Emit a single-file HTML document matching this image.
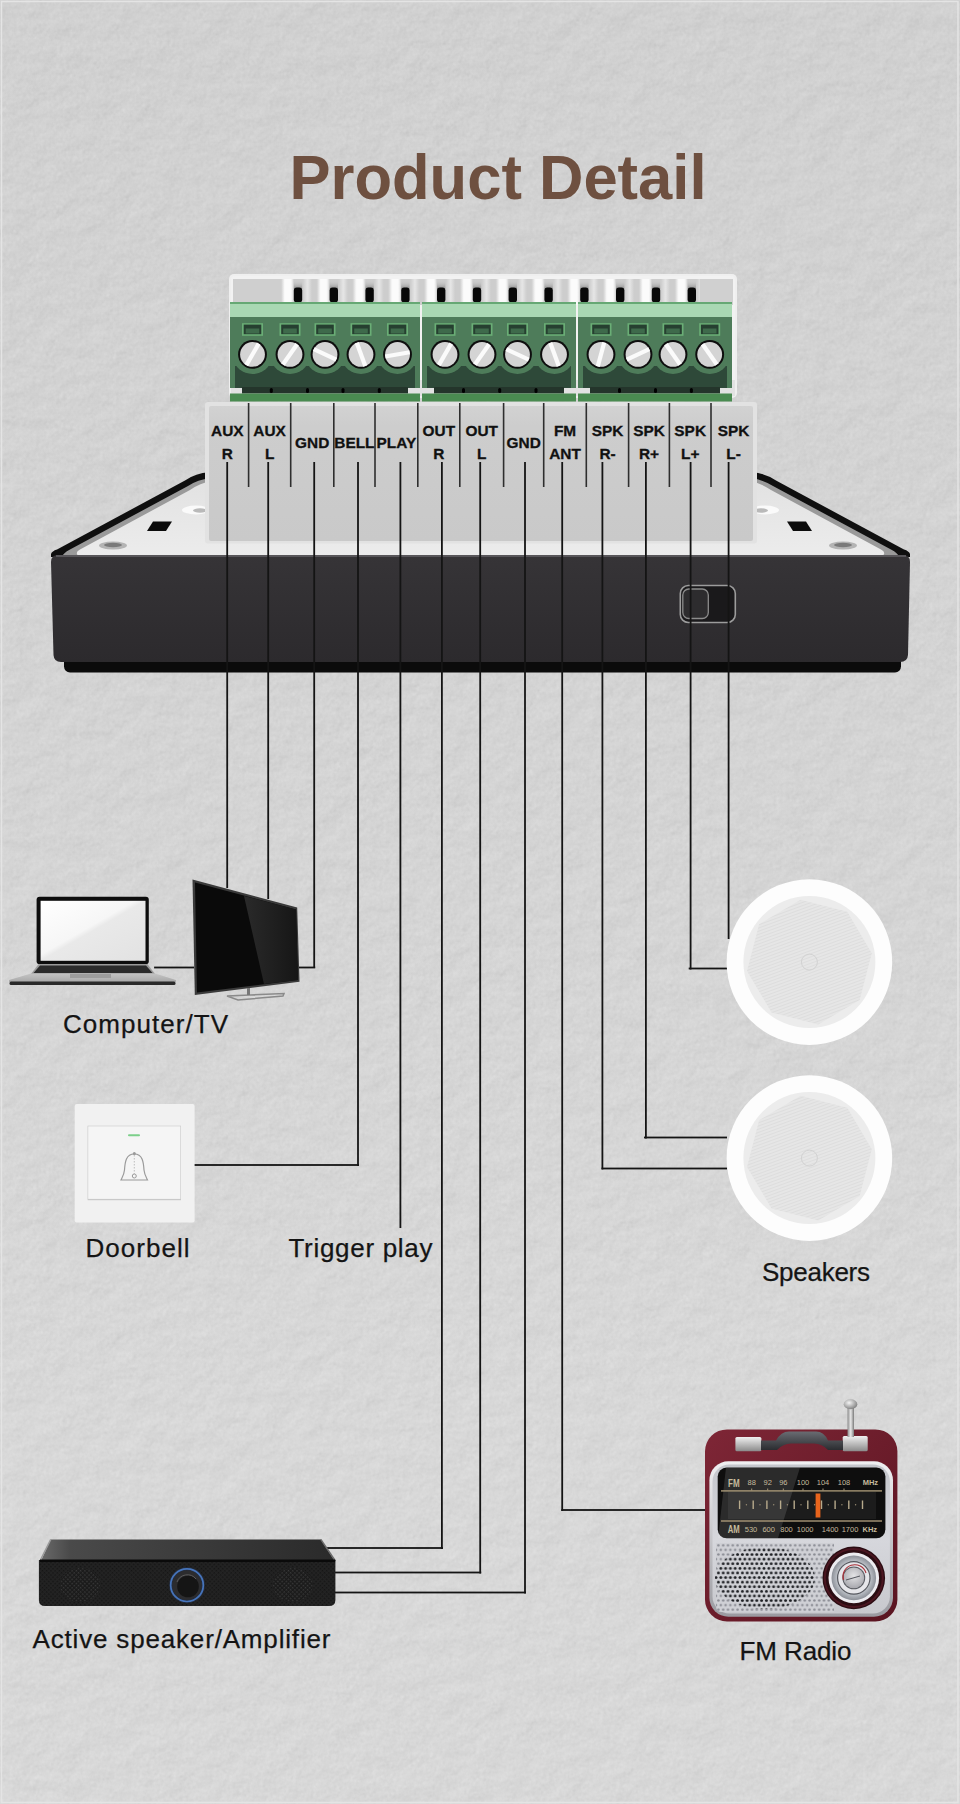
<!DOCTYPE html>
<html><head><meta charset="utf-8">
<style>
html,body{margin:0;padding:0;}
body{width:960px;height:1804px;overflow:hidden;background:#d0d0d0;position:relative;}
svg{position:absolute;left:0;top:0;}
.lb{font-family:"Liberation Sans",sans-serif;font-weight:bold;font-size:15.4px;fill:#111;stroke:#111;stroke-width:0.3px;text-anchor:middle;}
.t{font-family:"Liberation Sans",sans-serif;fill:#141414;stroke:#141414;stroke-width:0.25px;}
.rt{font-family:"Liberation Sans",sans-serif;font-size:7.5px;fill:#c6bb9e;}
</style></head><body>
<svg width="960" height="1804" viewBox="0 0 960 1804">
<defs>
<filter id="tex" x="0" y="0" width="960" height="1804" filterUnits="userSpaceOnUse" color-interpolation-filters="sRGB">
<feTurbulence type="fractalNoise" baseFrequency="0.04 0.045" numOctaves="4" seed="11" result="n"/>
<feDiffuseLighting in="n" surfaceScale="2.2" diffuseConstant="1" lighting-color="#ffffff" result="l">
<feDistantLight azimuth="235" elevation="55"/>
</feDiffuseLighting>
<feColorMatrix in="l" type="matrix" values="0.33 0.33 0.33 0 0  0.33 0.33 0.33 0 0  0.33 0.33 0.33 0 0  0 0 0 0 0.14"/>
</filter>
<filter id="tex2" x="0" y="0" width="960" height="1804" filterUnits="userSpaceOnUse" color-interpolation-filters="sRGB">
<feTurbulence type="fractalNoise" baseFrequency="0.3 0.25" numOctaves="2" seed="7" result="n"/>
<feColorMatrix in="n" type="matrix" values="0.33 0.33 0.33 0 0  0.33 0.33 0.33 0 0  0.33 0.33 0.33 0 0  0 0 0 0 0.08"/>
</filter>
<linearGradient id="band" x1="0" x2="1" y1="0" y2="0"><stop offset="0" stop-color="#cdcdcd"/><stop offset="0.3" stop-color="#fbfbfb"/><stop offset="0.8" stop-color="#fbfbfb"/><stop offset="1" stop-color="#d8d8d8"/></linearGradient>
<linearGradient id="band2" x1="0" x2="1" y1="0" y2="0"><stop offset="0" stop-color="#cdcdcd"/><stop offset="0.5" stop-color="#e6e6e6"/><stop offset="1" stop-color="#cdcdcd"/></linearGradient>
<linearGradient id="pinsh" x1="0" x2="0" y1="0" y2="1"><stop offset="0" stop-color="#cdcdcd" stop-opacity="0"/><stop offset="1" stop-color="#8a8a8a"/></linearGradient>
<pattern id="stripes" x="281" y="0" width="35.8" height="30" patternUnits="userSpaceOnUse">
<rect x="0" y="0" width="35.8" height="30" fill="#cdcdcd"/>
<rect x="0" y="0" width="12.5" height="30" fill="url(#band)"/>
<rect x="22" y="0" width="9" height="30" fill="url(#band2)"/>
</pattern>
<linearGradient id="topsurf" x1="0" y1="0" x2="0" y2="1"><stop offset="0" stop-color="#e2e2e2"/><stop offset="1" stop-color="#ececec"/></linearGradient>
<linearGradient id="bgg" x1="0" y1="0" x2="0" y2="1"><stop offset="0" stop-color="#d9d9d9"/><stop offset="0.5" stop-color="#dedede"/><stop offset="0.78" stop-color="#e2e2e2"/><stop offset="1" stop-color="#e2e2e2"/></linearGradient>
<linearGradient id="panel" x1="0" y1="0" x2="0" y2="1"><stop offset="0" stop-color="#d2d2d2"/><stop offset="0.15" stop-color="#cdcdcd"/><stop offset="1" stop-color="#c9c9c9"/></linearGradient>
<linearGradient id="body" x1="0" y1="0" x2="0" y2="1">
<stop offset="0" stop-color="#363437"/><stop offset="1" stop-color="#2c2a2d"/>
</linearGradient>
<linearGradient id="scr" x1="0" y1="0" x2="1" y2="1">
<stop offset="0" stop-color="#ffffff"/><stop offset="0.45" stop-color="#f6f6f6"/><stop offset="0.5" stop-color="#e9e9e9"/><stop offset="1" stop-color="#e2e2e2"/>
</linearGradient>
<linearGradient id="lapbase" x1="0" y1="0" x2="0" y2="1">
<stop offset="0" stop-color="#c4c4c4"/><stop offset="1" stop-color="#a8a8a8"/>
</linearGradient>
<linearGradient id="tvref" x1="0" y1="0" x2="1" y2="0">
<stop offset="0" stop-color="#2a2a2a"/><stop offset="1" stop-color="#161616"/>
</linearGradient>
<pattern id="grille" width="3" height="3" patternUnits="userSpaceOnUse" patternTransform="rotate(-20)">
<rect width="3" height="3" fill="#e6e6e6"/><rect width="3" height="1" fill="#dddddd"/>
</pattern>
<linearGradient id="sbtop" x1="0" y1="0" x2="1" y2="0">
<stop offset="0" stop-color="#6a6a6a"/><stop offset="0.1" stop-color="#4a4a4a"/><stop offset="0.6" stop-color="#383838"/><stop offset="1" stop-color="#2a2a2a"/>
</linearGradient>
<pattern id="mesh" width="3" height="3" patternUnits="userSpaceOnUse" patternTransform="rotate(45)">
<rect width="3" height="3" fill="#232323"/><rect width="1.5" height="1.5" fill="#151515"/>
</pattern>
<pattern id="mesh2" width="3" height="3" patternUnits="userSpaceOnUse" patternTransform="rotate(45)">
<rect width="3" height="3" fill="#1a1a1a"/><rect width="1.5" height="1.5" fill="#3a3a3a"/>
</pattern>
<linearGradient id="red" x1="0" y1="0" x2="1" y2="1">
<stop offset="0" stop-color="#7e2636"/><stop offset="1" stop-color="#5a1420"/>
</linearGradient>
<linearGradient id="silver" x1="0" y1="0" x2="0" y2="1">
<stop offset="0" stop-color="#f0f0f2"/><stop offset="1" stop-color="#9a9aa0"/>
</linearGradient>
<linearGradient id="silver2" x1="0" y1="0" x2="0" y2="1">
<stop offset="0" stop-color="#c4c6cc"/><stop offset="0.5" stop-color="#d6d7dc"/><stop offset="1" stop-color="#c8c9ce"/>
</linearGradient>
<pattern id="dots" width="4.8" height="9.2" patternUnits="userSpaceOnUse" x="716" y="1543">
<rect width="4.8" height="9.2" fill="#cfd0d5"/><circle cx="2.4" cy="2.3" r="1.25" fill="#8a8c94"/><circle cx="0" cy="6.9" r="1.25" fill="#8a8c94"/><circle cx="4.8" cy="6.9" r="1.25" fill="#8a8c94"/>
</pattern>
<pattern id="dots2" width="4.8" height="9.2" patternUnits="userSpaceOnUse" x="716" y="1543">
<rect width="4.8" height="9.2" fill="#cfd0d5"/><circle cx="2.4" cy="2.3" r="1.45" fill="#1e2024"/><circle cx="0" cy="6.9" r="1.45" fill="#1e2024"/><circle cx="4.8" cy="6.9" r="1.45" fill="#1e2024"/>
</pattern>
<radialGradient id="kring" cx="0.5" cy="0.5" r="0.5"><stop offset="0.7" stop-color="#c4c8ce"/><stop offset="1" stop-color="#8c9098"/></radialGradient>
<linearGradient id="hdark" x1="0" y1="0" x2="0" y2="1"><stop offset="0" stop-color="#6a6c72"/><stop offset="1" stop-color="#2a2c30"/></linearGradient>
<radialGradient id="antk" cx="0.4" cy="0.35" r="0.7"><stop offset="0" stop-color="#f4f4f4"/><stop offset="1" stop-color="#7a7a7a"/></radialGradient>
<radialGradient id="knob" cx="0.5" cy="0.25" r="0.8">
<stop offset="0" stop-color="#f6f6f6"/><stop offset="0.6" stop-color="#d0d0d4"/><stop offset="1" stop-color="#8a8a90"/>
</radialGradient>
<radialGradient id="knob2" cx="0.5" cy="0.4" r="0.6">
<stop offset="0" stop-color="#e4e4e6"/><stop offset="1" stop-color="#a8a8ae"/>
</radialGradient>
<linearGradient id="handle" x1="0" y1="0" x2="0" y2="1">
<stop offset="0" stop-color="#f0f0f0"/><stop offset="1" stop-color="#8a8a8a"/>
</linearGradient>
<linearGradient id="ant" x1="0" y1="0" x2="1" y2="0">
<stop offset="0" stop-color="#8a8a8a"/><stop offset="0.5" stop-color="#e8e8e8"/><stop offset="1" stop-color="#7a7a7a"/>
</linearGradient>
</defs>
<rect x="0" y="0" width="960" height="1804" fill="url(#bgg)"/>
<rect x="0" y="0" width="960" height="1804" filter="url(#tex)"/>
<rect x="0" y="0" width="960" height="1804" filter="url(#tex2)"/>
<rect x="1.5" y="1.5" width="956.5" height="1801" fill="none" stroke="#e4e4e4" stroke-width="1.5"/>
<text x="289.5" y="199.4" textLength="417" lengthAdjust="spacingAndGlyphs" style="font-family:'Liberation Sans',sans-serif;font-weight:bold;font-size:63px;fill:#6e5040;">Product Detail</text>
<rect x="229" y="274" width="508" height="124" rx="5" fill="#efefef"/>
<rect x="231" y="276" width="504" height="120" rx="4" fill="#f2f2f2"/><rect x="231" y="380" width="504" height="16" fill="#e2e2e2"/>
<rect x="233" y="279" width="500" height="26" fill="url(#stripes)"/>
<rect x="233" y="279" width="48" height="26" fill="#cfcfcf"/>
<rect x="700" y="279" width="33" height="26" fill="#d0d0d0"/>
<rect x="293.8" y="280" width="8.4" height="9" fill="url(#pinsh)"/>
<rect x="293.8" y="287.5" width="8.4" height="15" rx="3" fill="#080808"/>
<rect x="329.6" y="280" width="8.4" height="9" fill="url(#pinsh)"/>
<rect x="329.6" y="287.5" width="8.4" height="15" rx="3" fill="#080808"/>
<rect x="365.4" y="280" width="8.4" height="9" fill="url(#pinsh)"/>
<rect x="365.4" y="287.5" width="8.4" height="15" rx="3" fill="#080808"/>
<rect x="401.2" y="280" width="8.4" height="9" fill="url(#pinsh)"/>
<rect x="401.2" y="287.5" width="8.4" height="15" rx="3" fill="#080808"/>
<rect x="437.0" y="280" width="8.4" height="9" fill="url(#pinsh)"/>
<rect x="437.0" y="287.5" width="8.4" height="15" rx="3" fill="#080808"/>
<rect x="472.8" y="280" width="8.4" height="9" fill="url(#pinsh)"/>
<rect x="472.8" y="287.5" width="8.4" height="15" rx="3" fill="#080808"/>
<rect x="508.6" y="280" width="8.4" height="9" fill="url(#pinsh)"/>
<rect x="508.6" y="287.5" width="8.4" height="15" rx="3" fill="#080808"/>
<rect x="544.4" y="280" width="8.4" height="9" fill="url(#pinsh)"/>
<rect x="544.4" y="287.5" width="8.4" height="15" rx="3" fill="#080808"/>
<rect x="580.2" y="280" width="8.4" height="9" fill="url(#pinsh)"/>
<rect x="580.2" y="287.5" width="8.4" height="15" rx="3" fill="#080808"/>
<rect x="616.0" y="280" width="8.4" height="9" fill="url(#pinsh)"/>
<rect x="616.0" y="287.5" width="8.4" height="15" rx="3" fill="#080808"/>
<rect x="651.8" y="280" width="8.4" height="9" fill="url(#pinsh)"/>
<rect x="651.8" y="287.5" width="8.4" height="15" rx="3" fill="#080808"/>
<rect x="687.6" y="280" width="8.4" height="9" fill="url(#pinsh)"/>
<rect x="687.6" y="287.5" width="8.4" height="15" rx="3" fill="#080808"/>
<rect x="230" y="302" width="190" height="2" fill="#66a874"/>
<rect x="230" y="304" width="190" height="13" fill="#a9d8b3"/>
<rect x="230" y="317" width="190" height="71" fill="#4e7c5a"/>
<rect x="235" y="366" width="180" height="22" fill="#2e4939"/>
<rect x="242" y="387" width="166" height="6.5" fill="#24352b"/>
<rect x="230" y="393.5" width="190" height="8" fill="#4a8b51"/>
<rect x="422" y="302" width="154" height="2" fill="#66a874"/>
<rect x="422" y="304" width="154" height="13" fill="#a9d8b3"/>
<rect x="422" y="317" width="154" height="71" fill="#4e7c5a"/>
<rect x="427" y="366" width="144" height="22" fill="#2e4939"/>
<rect x="434" y="387" width="130" height="6.5" fill="#24352b"/>
<rect x="422" y="393.5" width="154" height="8" fill="#4a8b51"/>
<rect x="578" y="302" width="154" height="2" fill="#66a874"/>
<rect x="578" y="304" width="154" height="13" fill="#a9d8b3"/>
<rect x="578" y="317" width="154" height="71" fill="#4e7c5a"/>
<rect x="583" y="366" width="144" height="22" fill="#2e4939"/>
<rect x="590" y="387" width="130" height="6.5" fill="#24352b"/>
<rect x="578" y="393.5" width="154" height="8" fill="#4a8b51"/>
<ellipse cx="252.5" cy="359" rx="18.2" ry="15" fill="#4e7c5a"/>
<ellipse cx="290" cy="359" rx="18.2" ry="15" fill="#4e7c5a"/>
<ellipse cx="325" cy="359" rx="18.2" ry="15" fill="#4e7c5a"/>
<ellipse cx="361" cy="359" rx="18.2" ry="15" fill="#4e7c5a"/>
<ellipse cx="397.5" cy="359" rx="18.2" ry="15" fill="#4e7c5a"/>
<ellipse cx="445" cy="359" rx="18.2" ry="15" fill="#4e7c5a"/>
<ellipse cx="482" cy="359" rx="18.2" ry="15" fill="#4e7c5a"/>
<ellipse cx="517.5" cy="359" rx="18.2" ry="15" fill="#4e7c5a"/>
<ellipse cx="554.5" cy="359" rx="18.2" ry="15" fill="#4e7c5a"/>
<ellipse cx="601" cy="359" rx="18.2" ry="15" fill="#4e7c5a"/>
<ellipse cx="638" cy="359" rx="18.2" ry="15" fill="#4e7c5a"/>
<ellipse cx="673" cy="359" rx="18.2" ry="15" fill="#4e7c5a"/>
<ellipse cx="709.7" cy="359" rx="18.2" ry="15" fill="#4e7c5a"/>
<rect x="242.0" y="323.2" width="21" height="12.6" fill="#6aae76"/>
<rect x="243.7" y="324.6" width="17.6" height="9.6" fill="#263f30"/>
<rect x="245.7" y="328.5" width="13.6" height="5" fill="#3e6a4b"/>
<circle cx="252.5" cy="354.4" r="14.4" fill="#0e0e0e"/>
<circle cx="252.5" cy="354.4" r="12.4" fill="#d4d4d4"/>
<rect x="240.1" y="352.3" width="24.8" height="4.2" fill="#fbfbfb" transform="rotate(-60 252.5 354.4)"/>
<rect x="279.5" y="323.2" width="21" height="12.6" fill="#6aae76"/>
<rect x="281.2" y="324.6" width="17.6" height="9.6" fill="#263f30"/>
<rect x="283.2" y="328.5" width="13.6" height="5" fill="#3e6a4b"/>
<circle cx="290" cy="354.4" r="14.4" fill="#0e0e0e"/>
<circle cx="290" cy="354.4" r="12.4" fill="#d4d4d4"/>
<rect x="277.6" y="352.3" width="24.8" height="4.2" fill="#fbfbfb" transform="rotate(-55 290 354.4)"/>
<rect x="314.5" y="323.2" width="21" height="12.6" fill="#6aae76"/>
<rect x="316.2" y="324.6" width="17.6" height="9.6" fill="#263f30"/>
<rect x="318.2" y="328.5" width="13.6" height="5" fill="#3e6a4b"/>
<circle cx="325" cy="354.4" r="14.4" fill="#0e0e0e"/>
<circle cx="325" cy="354.4" r="12.4" fill="#d4d4d4"/>
<rect x="312.6" y="352.3" width="24.8" height="4.2" fill="#fbfbfb" transform="rotate(25 325 354.4)"/>
<rect x="350.5" y="323.2" width="21" height="12.6" fill="#6aae76"/>
<rect x="352.2" y="324.6" width="17.6" height="9.6" fill="#263f30"/>
<rect x="354.2" y="328.5" width="13.6" height="5" fill="#3e6a4b"/>
<circle cx="361" cy="354.4" r="14.4" fill="#0e0e0e"/>
<circle cx="361" cy="354.4" r="12.4" fill="#d4d4d4"/>
<rect x="348.6" y="352.3" width="24.8" height="4.2" fill="#fbfbfb" transform="rotate(70 361 354.4)"/>
<rect x="387.0" y="323.2" width="21" height="12.6" fill="#6aae76"/>
<rect x="388.7" y="324.6" width="17.6" height="9.6" fill="#263f30"/>
<rect x="390.7" y="328.5" width="13.6" height="5" fill="#3e6a4b"/>
<circle cx="397.5" cy="354.4" r="14.4" fill="#0e0e0e"/>
<circle cx="397.5" cy="354.4" r="12.4" fill="#d4d4d4"/>
<rect x="385.1" y="352.3" width="24.8" height="4.2" fill="#fbfbfb" transform="rotate(-10 397.5 354.4)"/>
<rect x="434.5" y="323.2" width="21" height="12.6" fill="#6aae76"/>
<rect x="436.2" y="324.6" width="17.6" height="9.6" fill="#263f30"/>
<rect x="438.2" y="328.5" width="13.6" height="5" fill="#3e6a4b"/>
<circle cx="445" cy="354.4" r="14.4" fill="#0e0e0e"/>
<circle cx="445" cy="354.4" r="12.4" fill="#d4d4d4"/>
<rect x="432.6" y="352.3" width="24.8" height="4.2" fill="#fbfbfb" transform="rotate(-60 445 354.4)"/>
<rect x="471.5" y="323.2" width="21" height="12.6" fill="#6aae76"/>
<rect x="473.2" y="324.6" width="17.6" height="9.6" fill="#263f30"/>
<rect x="475.2" y="328.5" width="13.6" height="5" fill="#3e6a4b"/>
<circle cx="482" cy="354.4" r="14.4" fill="#0e0e0e"/>
<circle cx="482" cy="354.4" r="12.4" fill="#d4d4d4"/>
<rect x="469.6" y="352.3" width="24.8" height="4.2" fill="#fbfbfb" transform="rotate(-55 482 354.4)"/>
<rect x="507.0" y="323.2" width="21" height="12.6" fill="#6aae76"/>
<rect x="508.7" y="324.6" width="17.6" height="9.6" fill="#263f30"/>
<rect x="510.7" y="328.5" width="13.6" height="5" fill="#3e6a4b"/>
<circle cx="517.5" cy="354.4" r="14.4" fill="#0e0e0e"/>
<circle cx="517.5" cy="354.4" r="12.4" fill="#d4d4d4"/>
<rect x="505.1" y="352.3" width="24.8" height="4.2" fill="#fbfbfb" transform="rotate(25 517.5 354.4)"/>
<rect x="544.0" y="323.2" width="21" height="12.6" fill="#6aae76"/>
<rect x="545.7" y="324.6" width="17.6" height="9.6" fill="#263f30"/>
<rect x="547.7" y="328.5" width="13.6" height="5" fill="#3e6a4b"/>
<circle cx="554.5" cy="354.4" r="14.4" fill="#0e0e0e"/>
<circle cx="554.5" cy="354.4" r="12.4" fill="#d4d4d4"/>
<rect x="542.1" y="352.3" width="24.8" height="4.2" fill="#fbfbfb" transform="rotate(70 554.5 354.4)"/>
<rect x="590.5" y="323.2" width="21" height="12.6" fill="#6aae76"/>
<rect x="592.2" y="324.6" width="17.6" height="9.6" fill="#263f30"/>
<rect x="594.2" y="328.5" width="13.6" height="5" fill="#3e6a4b"/>
<circle cx="601" cy="354.4" r="14.4" fill="#0e0e0e"/>
<circle cx="601" cy="354.4" r="12.4" fill="#d4d4d4"/>
<rect x="588.6" y="352.3" width="24.8" height="4.2" fill="#fbfbfb" transform="rotate(-75 601 354.4)"/>
<rect x="627.5" y="323.2" width="21" height="12.6" fill="#6aae76"/>
<rect x="629.2" y="324.6" width="17.6" height="9.6" fill="#263f30"/>
<rect x="631.2" y="328.5" width="13.6" height="5" fill="#3e6a4b"/>
<circle cx="638" cy="354.4" r="14.4" fill="#0e0e0e"/>
<circle cx="638" cy="354.4" r="12.4" fill="#d4d4d4"/>
<rect x="625.6" y="352.3" width="24.8" height="4.2" fill="#fbfbfb" transform="rotate(-25 638 354.4)"/>
<rect x="662.5" y="323.2" width="21" height="12.6" fill="#6aae76"/>
<rect x="664.2" y="324.6" width="17.6" height="9.6" fill="#263f30"/>
<rect x="666.2" y="328.5" width="13.6" height="5" fill="#3e6a4b"/>
<circle cx="673" cy="354.4" r="14.4" fill="#0e0e0e"/>
<circle cx="673" cy="354.4" r="12.4" fill="#d4d4d4"/>
<rect x="660.6" y="352.3" width="24.8" height="4.2" fill="#fbfbfb" transform="rotate(55 673 354.4)"/>
<rect x="699.2" y="323.2" width="21" height="12.6" fill="#6aae76"/>
<rect x="700.9" y="324.6" width="17.6" height="9.6" fill="#263f30"/>
<rect x="702.9" y="328.5" width="13.6" height="5" fill="#3e6a4b"/>
<circle cx="709.7" cy="354.4" r="14.4" fill="#0e0e0e"/>
<circle cx="709.7" cy="354.4" r="12.4" fill="#d4d4d4"/>
<rect x="697.3" y="352.3" width="24.8" height="4.2" fill="#fbfbfb" transform="rotate(55 709.7 354.4)"/>
<rect x="269.8" y="388" width="3" height="5" rx="1.5" fill="#000"/>
<rect x="306.0" y="388" width="3" height="5" rx="1.5" fill="#000"/>
<rect x="341.5" y="388" width="3" height="5" rx="1.5" fill="#000"/>
<rect x="377.8" y="388" width="3" height="5" rx="1.5" fill="#000"/>
<rect x="462.0" y="388" width="3" height="5" rx="1.5" fill="#000"/>
<rect x="498.2" y="388" width="3" height="5" rx="1.5" fill="#000"/>
<rect x="534.5" y="388" width="3" height="5" rx="1.5" fill="#000"/>
<rect x="618.0" y="388" width="3" height="5" rx="1.5" fill="#000"/>
<rect x="654.0" y="388" width="3" height="5" rx="1.5" fill="#000"/>
<rect x="689.9" y="388" width="3" height="5" rx="1.5" fill="#000"/>
<path d="M51 557 L51 554 Q52 551 57 549.5 L185 480.5 Q196 473 209 472.3 L752 472.3 Q765 473 776 480.5 L904 549.5 Q909 551 910 554 L910 557 Z" fill="#0f0f0f"/>
<path d="M62 557 Q63 553 70 549.5 L188 486 Q198 479.5 210 478.3 L751 478.3 Q763 479.5 773 486 L891 549.5 Q898 553 899 557 Z" fill="#9a9a9a"/>
<path d="M79 556 Q74 553 80 549.5 L190 490 Q200 483 212 481 L749 481 Q761 483 771 490 L881 549.5 Q887 553 882 556 Z" fill="url(#topsurf)"/>
<ellipse cx="113" cy="545.5" rx="14" ry="4" fill="#b4b4b4"/><ellipse cx="113" cy="545" rx="9" ry="2.2" fill="#7a7a7a"/>
<ellipse cx="843" cy="545.5" rx="14" ry="4" fill="#b4b4b4"/><ellipse cx="843" cy="545" rx="9" ry="2.2" fill="#7a7a7a"/>
<path d="M153 521.5 L172 521.5 L166 531 L147 531 Z" fill="#0c0c0c"/>
<path d="M787 521.5 L806 521.5 L812 531 L793 531 Z" fill="#0c0c0c"/>
<ellipse cx="196" cy="510" rx="14" ry="4.4" fill="#fafafa"/><ellipse cx="200" cy="510.5" rx="7" ry="2.2" fill="#b9b9b9"/>
<ellipse cx="765" cy="510" rx="14" ry="4.4" fill="#fafafa"/><ellipse cx="761" cy="510.5" rx="7" ry="2.2" fill="#b9b9b9"/>
<rect x="64" y="645" width="837" height="27.5" rx="6" fill="#0b0b0b"/>
<path d="M51 562 Q51 555 58 555 L903 555 Q910 555 910 562 L908 655 Q907.5 662 900 662 L61 662 Q54 662 53.5 655 Z" fill="url(#body)"/>
<rect x="56" y="555" width="850" height="2" fill="#58565a"/>
<rect x="680.3" y="585.5" width="55" height="37" rx="8" fill="#1a191b" stroke="#9c9c9c" stroke-width="1.6"/>
<rect x="682.8" y="589" width="25.5" height="29.5" rx="6" fill="#2d2c2e" stroke="#8c8c8c" stroke-width="1.3"/>
<rect x="205" y="402" width="552" height="141.5" rx="3" fill="#e2e2e2"/>
<rect x="209" y="406" width="544" height="135" rx="2" fill="url(#panel)"/>
<rect x="247.8" y="403" width="1.6" height="84" fill="#2e2e2e"/>
<rect x="289.9" y="403" width="1.6" height="84" fill="#2e2e2e"/>
<rect x="333.0" y="403" width="1.6" height="84" fill="#2e2e2e"/>
<rect x="374.2" y="403" width="1.6" height="84" fill="#2e2e2e"/>
<rect x="417.0" y="403" width="1.6" height="84" fill="#2e2e2e"/>
<rect x="459.0" y="403" width="1.6" height="84" fill="#2e2e2e"/>
<rect x="502.8" y="403" width="1.6" height="84" fill="#2e2e2e"/>
<rect x="542.9" y="403" width="1.6" height="84" fill="#2e2e2e"/>
<rect x="585.5" y="403" width="1.6" height="84" fill="#2e2e2e"/>
<rect x="627.8" y="403" width="1.6" height="84" fill="#2e2e2e"/>
<rect x="668.6" y="403" width="1.6" height="84" fill="#2e2e2e"/>
<rect x="710.2" y="403" width="1.6" height="84" fill="#2e2e2e"/>
<text x="227.3" y="436.4" class="lb">AUX</text>
<text x="227.3" y="459.2" class="lb">R</text>
<text x="269.6" y="436.4" class="lb">AUX</text>
<text x="269.6" y="459.2" class="lb">L</text>
<text x="312.2" y="447.8" class="lb">GND</text>
<text x="354.4" y="447.8" class="lb">BELL</text>
<text x="396.4" y="447.8" class="lb">PLAY</text>
<text x="438.8" y="436.4" class="lb">OUT</text>
<text x="438.8" y="459.2" class="lb">R</text>
<text x="481.7" y="436.4" class="lb">OUT</text>
<text x="481.7" y="459.2" class="lb">L</text>
<text x="523.7" y="447.8" class="lb">GND</text>
<text x="565.0" y="436.4" class="lb">FM</text>
<text x="565.0" y="459.2" class="lb">ANT</text>
<text x="607.5" y="436.4" class="lb">SPK</text>
<text x="607.5" y="459.2" class="lb">R-</text>
<text x="649.0" y="436.4" class="lb">SPK</text>
<text x="649.0" y="459.2" class="lb">R+</text>
<text x="690.2" y="436.4" class="lb">SPK</text>
<text x="690.2" y="459.2" class="lb">L+</text>
<text x="733.5" y="436.4" class="lb">SPK</text>
<text x="733.5" y="459.2" class="lb">L-</text>
<rect x="226.3" y="462" width="1.8" height="426.0" fill="#141414"/>
<rect x="267.3" y="462" width="1.8" height="437.0" fill="#141414"/>
<rect x="313.3" y="462" width="1.8" height="506.0" fill="#141414"/>
<rect x="357.1" y="462" width="1.8" height="704.0" fill="#141414"/>
<rect x="399.5" y="462" width="1.8" height="766.0" fill="#141414"/>
<rect x="441.0" y="462" width="1.8" height="1087.0" fill="#141414"/>
<rect x="479.3" y="462" width="1.8" height="1111.5" fill="#141414"/>
<rect x="524.1" y="462" width="1.8" height="1131.5" fill="#141414"/>
<rect x="561.3" y="462" width="1.8" height="1049.0" fill="#141414"/>
<rect x="601.5" y="462" width="1.8" height="707.4" fill="#141414"/>
<rect x="645.0" y="462" width="1.8" height="676.5" fill="#141414"/>
<rect x="689.7" y="462" width="1.8" height="507.5" fill="#141414"/>
<rect x="727.7" y="462" width="1.8" height="477.0" fill="#141414"/>
<rect x="298.1" y="966.6" width="17.1" height="1.8" fill="#141414"/>
<rect x="154.1" y="966.6" width="39.9" height="1.8" fill="#141414"/>
<rect x="193.1" y="1164.1" width="165.9" height="1.8" fill="#141414"/>
<rect x="327.1" y="1547.1" width="115.9" height="1.8" fill="#141414"/>
<rect x="334.1" y="1571.6" width="147.1" height="1.8" fill="#141414"/>
<rect x="334.1" y="1591.6" width="191.9" height="1.8" fill="#141414"/>
<rect x="561.3" y="1509.1" width="144.7" height="1.8" fill="#141414"/>
<rect x="601.5" y="1167.6" width="125.5" height="1.8" fill="#141414"/>
<rect x="644.0" y="1136.6" width="83.0" height="1.8" fill="#141414"/>
<rect x="688.7" y="967.6" width="38.3" height="1.8" fill="#141414"/>
<rect x="36.6" y="896.8" width="112.2" height="67.5" rx="3" fill="#0d0d0d"/>
<rect x="40.6" y="900.8" width="104.9" height="60" fill="url(#scr)"/>
<path d="M38.6 964 L147.4 964 L155 974 L31 974 Z" fill="#9a9a9a"/>
<path d="M40 965.5 L146 965.5 L152.5 973 L33.5 973 Z" fill="#2b2b2b"/>
<path d="M31 973.5 L155 973.5 L176 980 L176 982 L9 982 L9 980 Z" fill="url(#lapbase)"/>
<rect x="70" y="974" width="41" height="4" fill="#9c9c9c"/>
<rect x="9.5" y="981.5" width="166" height="3.5" rx="1.5" fill="#2a2a2a"/>
<path d="M192.5 879.4 L297.2 907.5 L299.5 981.7 L194.8 995 Z" fill="#3a3a3a"/>
<path d="M195 882.5 L296 909.5 L298 980 L197 992.5 Z" fill="#0a0a0a"/>
<path d="M244 896 L296 909.5 L298 980 L264 984 Z" fill="url(#tvref)"/>
<path d="M227 996 L284 993.5 L283 996 L238 1000 Z" fill="none" stroke="#8a8a8a" stroke-width="1.5"/>
<rect x="247" y="988" width="3" height="7" fill="#777"/>
<rect x="74.7" y="1104" width="119.9" height="118.5" rx="2" fill="#f1f1f1"/>
<rect x="87.6" y="1125.7" width="93.4" height="74.5" fill="#c9c9c9"/>
<rect x="88.2" y="1126.3" width="92.2" height="72.6" fill="#f5f5f5"/>
<rect x="128" y="1134.3" width="12" height="2" rx="1" fill="#7ccf8a"/>
<path d="M134.3 1154 C126 1154 125 1162 124.5 1170 C124 1175 122 1178 121 1180 L147.5 1180 C146.5 1178 144.5 1175 144 1170 C143.5 1162 142.5 1154 134.3 1154 Z" fill="none" stroke="#9a9a9a" stroke-width="1.2"/>
<circle cx="134.3" cy="1153.5" r="1.5" fill="#9a9a9a"/><circle cx="134.3" cy="1176" r="2" fill="none" stroke="#9a9a9a" stroke-width="1"/>
<line x1="134.3" y1="1155" x2="134.3" y2="1174" stroke="#b0b0b0" stroke-width="0.8" stroke-dasharray="1.5 1.5"/>
<circle cx="809.4" cy="962.1" r="82.8" fill="#fdfdfd"/>
<circle cx="809.4" cy="962.1" r="66" fill="#ececec"/>
<polygon points="859.7,1000.0 818.2,1024.5 771.5,1012.4 747.0,970.9 759.1,924.2 800.6,899.7 847.3,911.8 871.8,953.3" fill="url(#grille)"/>
<circle cx="809.4" cy="962.1" r="8" fill="none" stroke="#d2d2d2" stroke-width="1"/>
<circle cx="809.4" cy="1158.1" r="82.8" fill="#fdfdfd"/>
<circle cx="809.4" cy="1158.1" r="66" fill="#ececec"/>
<polygon points="859.7,1196.0 818.2,1220.5 771.5,1208.4 747.0,1166.9 759.1,1120.2 800.6,1095.7 847.3,1107.8 871.8,1149.3" fill="url(#grille)"/>
<circle cx="809.4" cy="1158.1" r="8" fill="none" stroke="#d2d2d2" stroke-width="1"/>
<path d="M50.8 1539.4 L320.8 1539.4 L335.4 1562 L40.4 1562 Z" fill="url(#sbtop)"/>
<path d="M50.8 1539.4 L40.4 1560" stroke="#9a9a9a" stroke-width="1.5"/>
<path d="M320.8 1539.4 L335.4 1561" stroke="#6a6a6a" stroke-width="1.5"/>
<path d="M38.9 1560 L335.4 1560 L335.4 1600 Q335.4 1606 329 1606 L45 1606 Q38.9 1606 38.9 1600 Z" fill="url(#mesh)"/>
<rect x="40" y="1559.5" width="295" height="2.5" fill="#0a0a0a"/>
<ellipse cx="80" cy="1585" rx="20" ry="17" fill="url(#mesh2)"/>
<ellipse cx="292.8" cy="1585" rx="20" ry="17" fill="url(#mesh2)"/>
<circle cx="187" cy="1585.2" r="18" fill="#2a3a5a" opacity="0.5"/>
<circle cx="187" cy="1585.2" r="16.3" fill="none" stroke="#4674bb" stroke-width="1.7"/>
<circle cx="187" cy="1585.2" r="14.6" fill="#2c2c2e"/>
<circle cx="188" cy="1586.5" r="10.8" fill="#151515"/>
<path d="M177 1582 A11 11 0 0 1 196 1579" fill="none" stroke="#5a5a5a" stroke-width="1"/>
<rect x="705" y="1429.4" width="192.4" height="192" rx="22" fill="url(#red)"/>
<rect x="709.4" y="1461.3" width="183.6" height="155.5" rx="19" fill="url(#silver)"/>
<rect x="712.5" y="1464.5" width="177.4" height="149" rx="17" fill="url(#silver2)"/>
<rect x="717.7" y="1467.5" width="167.7" height="70.8" rx="9" fill="#0e0e0e"/>
<rect x="728" y="1492" width="148" height="27" fill="#1c1c1c"/>
<path d="M726 1467.5 L800 1467.5 L778 1538.3 L718 1538.3 Z" fill="#ffffff" opacity="0.12"/>
<rect x="721" y="1490.2" width="161" height="1.4" fill="#a89878"/>
<rect x="721" y="1520.3" width="161" height="1.4" fill="#a89878"/>
<rect x="738.9" y="1500.5" width="1.4" height="8.5" fill="#b7aa8c"/>
<circle cx="746.4" cy="1504.8" r="0.7" fill="#9a8e74"/>
<rect x="752.5" y="1500.5" width="1.4" height="8.5" fill="#b7aa8c"/>
<circle cx="760.0" cy="1504.8" r="0.7" fill="#9a8e74"/>
<rect x="766.2" y="1500.5" width="1.4" height="8.5" fill="#b7aa8c"/>
<circle cx="773.7" cy="1504.8" r="0.7" fill="#9a8e74"/>
<rect x="779.9" y="1500.5" width="1.4" height="8.5" fill="#b7aa8c"/>
<circle cx="787.4" cy="1504.8" r="0.7" fill="#9a8e74"/>
<rect x="793.5" y="1500.5" width="1.4" height="8.5" fill="#b7aa8c"/>
<circle cx="801.0" cy="1504.8" r="0.7" fill="#9a8e74"/>
<rect x="807.1" y="1500.5" width="1.4" height="8.5" fill="#b7aa8c"/>
<circle cx="814.6" cy="1504.8" r="0.7" fill="#9a8e74"/>
<rect x="820.8" y="1500.5" width="1.4" height="8.5" fill="#b7aa8c"/>
<circle cx="828.3" cy="1504.8" r="0.7" fill="#9a8e74"/>
<rect x="834.4" y="1500.5" width="1.4" height="8.5" fill="#b7aa8c"/>
<circle cx="841.9" cy="1504.8" r="0.7" fill="#9a8e74"/>
<rect x="848.1" y="1500.5" width="1.4" height="8.5" fill="#b7aa8c"/>
<circle cx="855.6" cy="1504.8" r="0.7" fill="#9a8e74"/>
<rect x="861.8" y="1500.5" width="1.4" height="8.5" fill="#b7aa8c"/>
<rect x="751.2" y="1488.5" width="1" height="2" fill="#a89878"/>
<rect x="767.2" y="1488.5" width="1" height="2" fill="#a89878"/>
<rect x="782.8" y="1488.5" width="1" height="2" fill="#a89878"/>
<rect x="802.5" y="1488.5" width="1" height="2" fill="#a89878"/>
<rect x="822.5" y="1488.5" width="1" height="2" fill="#a89878"/>
<rect x="843.5" y="1488.5" width="1" height="2" fill="#a89878"/>
<rect x="815.6" y="1493.5" width="4.8" height="24" fill="#e8641c"/>
<text x="733.8" y="1487.3" class="rt" style="font-size:10.5px;font-weight:bold;text-anchor:middle" textLength="11.6" lengthAdjust="spacingAndGlyphs">FM</text>
<text x="733.8" y="1533" class="rt" style="font-size:10.5px;font-weight:bold;text-anchor:middle" textLength="12" lengthAdjust="spacingAndGlyphs">AM</text>
<text x="751.7" y="1485.2" class="rt" style="text-anchor:middle">88</text>
<text x="767.7" y="1485.2" class="rt" style="text-anchor:middle">92</text>
<text x="783.3" y="1485.2" class="rt" style="text-anchor:middle">96</text>
<text x="803" y="1485.2" class="rt" style="text-anchor:middle">100</text>
<text x="823" y="1485.2" class="rt" style="text-anchor:middle">104</text>
<text x="844" y="1485.2" class="rt" style="text-anchor:middle">108</text>
<text x="870.4" y="1485.2" class="rt" style="font-weight:bold;text-anchor:middle">MHz</text>
<text x="751" y="1532" class="rt" style="text-anchor:middle">530</text>
<text x="768.7" y="1532" class="rt" style="text-anchor:middle">600</text>
<text x="786.5" y="1532" class="rt" style="text-anchor:middle">800</text>
<text x="805.2" y="1532" class="rt" style="text-anchor:middle">1000</text>
<text x="830.2" y="1532" class="rt" style="text-anchor:middle">1400</text>
<text x="850" y="1532" class="rt" style="text-anchor:middle">1700</text>
<text x="869.8" y="1532" class="rt" style="font-weight:bold;text-anchor:middle">KHz</text>
<path d="M716 1543 L834 1543 L834 1612 L722 1612 Q716 1612 716 1606 Z" fill="url(#dots)"/>
<ellipse cx="765" cy="1578" rx="50" ry="31" fill="url(#dots2)"/>
<circle cx="853.8" cy="1577.9" r="31.3" fill="#2a0c12"/>
<circle cx="853.8" cy="1577.9" r="29" fill="none" stroke="#4a1520" stroke-width="2"/>
<circle cx="853.8" cy="1577.9" r="25.3" fill="#ececf0"/>
<circle cx="853.8" cy="1577.9" r="22.3" fill="url(#kring)"/>
<circle cx="853.8" cy="1577.9" r="16.8" fill="#55575e"/>
<circle cx="853.8" cy="1577.9" r="15.6" fill="#e6e6ea"/>
<circle cx="853.8" cy="1577.9" r="11.4" fill="#5a5c62"/>
<circle cx="853.8" cy="1577.9" r="10.4" fill="url(#knob2)"/>
<path d="M843.5 1580 A11 11 0 0 1 866 1573" fill="none" stroke="#a83038" stroke-width="1.1"/>
<path d="M846 1580 L860 1576" fill="none" stroke="#55575e" stroke-width="1"/>
<rect x="735.4" y="1437" width="26" height="14.3" rx="1.5" fill="url(#handle)"/>
<rect x="842.7" y="1436" width="25" height="15.3" rx="1.5" fill="url(#handle)"/>
<path d="M761 1440.5 L776 1440.5 Q781 1431.5 789 1431.5 L816 1431.5 Q824 1431.5 828 1440.5 L843 1440.5 L843 1450 L828 1450 Q822 1443.5 814 1443.5 L791 1443.5 Q783 1443.5 777 1450 L761 1450 Z" fill="url(#hdark)"/>
<rect x="847.5" y="1407" width="6.5" height="30" fill="url(#ant)"/>
<ellipse cx="850.5" cy="1404.3" rx="6.8" ry="5" fill="url(#antk)"/>
<text x="63" y="1032.7" class="t" style="font-size:26px" textLength="165" lengthAdjust="spacing">Computer/TV</text>
<text x="85.5" y="1257" class="t" style="font-size:26px" textLength="104" lengthAdjust="spacing">Doorbell</text>
<text x="288.5" y="1257" class="t" style="font-size:26px" textLength="144" lengthAdjust="spacing">Trigger play</text>
<text x="762" y="1280.7" class="t" style="font-size:26px" textLength="108" lengthAdjust="spacing">Speakers</text>
<text x="32.5" y="1648" class="t" style="font-size:26px" textLength="298" lengthAdjust="spacing">Active speaker/Amplifier</text>
<text x="739.5" y="1660" class="t" style="font-size:26px" textLength="112" lengthAdjust="spacing">FM Radio</text>
</svg>
</body></html>
